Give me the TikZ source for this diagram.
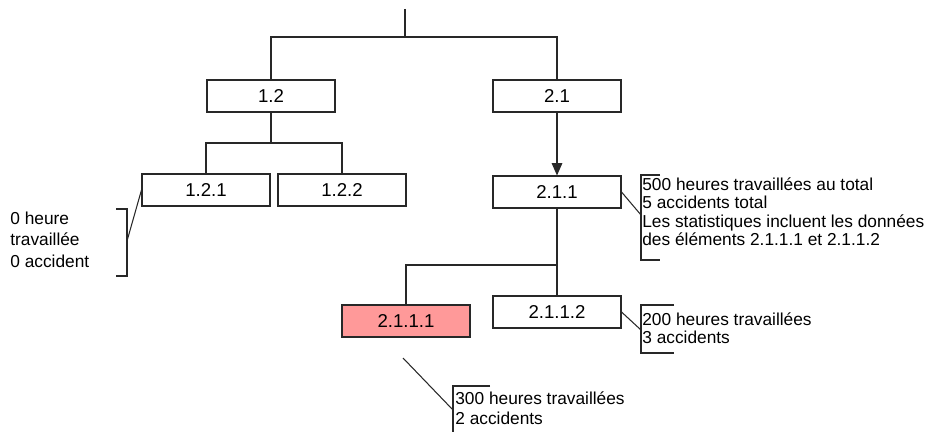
\documentclass[tikz,border=0pt]{standalone}
\usepackage{fontspec}
\setmainfont{Liberation Sans}
\usetikzlibrary{arrows.meta,positioning,calc}

\definecolor{linegray}{RGB}{40,40,40}
\definecolor{hilite}{RGB}{255,153,153}

\tikzset{
  box/.style={draw=linegray, line width=0.6pt, minimum width=2.56cm, minimum height=0.64cm,
    inner sep=0pt, font=\fontsize{10.6}{12}\selectfont},
  note/.style={align=left, inner sep=0pt, font=\fontsize{9.85}{10.6}\selectfont},
  link/.style={draw=linegray, line width=0.6pt},
}

\begin{document}
\begin{tikzpicture}[x=0.02cm, y=-0.02cm]
  \useasboundingbox (0,0) rectangle (926,432);

  % tree nodes
  \node[box] (n12)   at (271,96)  {1.2};
  \node[box] (n21)   at (557,96)  {2.1};
  \node[box] (n121)  at (206,190) {1.2.1};
  \node[box] (n122)  at (342,190) {1.2.2};
  \node[box] (n211)  at (557,192) {2.1.1};
  \node[box, fill=hilite] (n2111) at (406,321) {2.1.1.1};
  \node[box] (n2112) at (557,312) {2.1.1.2};

  % junctions
  \coordinate (top) at (405,9);
  \coordinate (j0)  at (405,37);
  \coordinate (j12) at (271,143);
  \coordinate (j211) at (557,265);

  % connectors
  \draw[link] (top) -- (j0) -| (n12.north);
  \draw[link] (j0) -| (n21.north);
  \draw[link] (n12.south) -- (j12) -| (n121.north);
  \draw[link] (j12) -| (n122.north);
  \draw[link, -{Triangle[length=7pt,width=6pt]}] (n21.south) -- (n211.north);
  \draw[link] (n211.south) -- (j211) -- (n2112.north);
  \draw[link] (j211) -| (n2111.north);

  % notes
  \node[note, anchor=north west, font=\fontsize{9.85}{12}\selectfont] (t121) at (10,212) {0 heure\\travaillée\\0 accident};
  \node[note, anchor=north west] (t211) at (642,177) {500 heures travaillées au total\\5 accidents total\\Les statistiques incluent les données\\des éléments 2.1.1.1 et 2.1.1.2};
  \node[note, anchor=north west] (t2112) at (642,312) {200 heures travaillées\\3 accidents};
  \node[note, anchor=north west, font=\fontsize{9.85}{11.6}\selectfont] (t2111) at (455,391) {300 heures travaillées\\2 accidents};

  % brackets
  \draw[link] (116,209) -- (127,209) -- (127,276) -- (116,276);
  \draw[link] (660,175) -- (641,175) -- (641,260) -- (660,260);
  \draw[link] (674,305) -- (641,305) -- (641,353) -- (674,353);
  \draw[link] (490,386) -- (453,386) -- (453,432);

  % leaders
  \coordinate (b121)  at (127,241);
  \coordinate (b211)  at (641,215);
  \coordinate (b2112) at (641,330);
  \coordinate (b2111) at (453,410);
  \coordinate (s2111) at (403,358);
  \draw[link] (b121) -- (n121.west);
  \draw[link] (n211.east) -- (b211);
  \draw[link] (n2112.east) -- (b2112);
  \draw[link] (s2111) -- (b2111);
\end{tikzpicture}
\end{document}
